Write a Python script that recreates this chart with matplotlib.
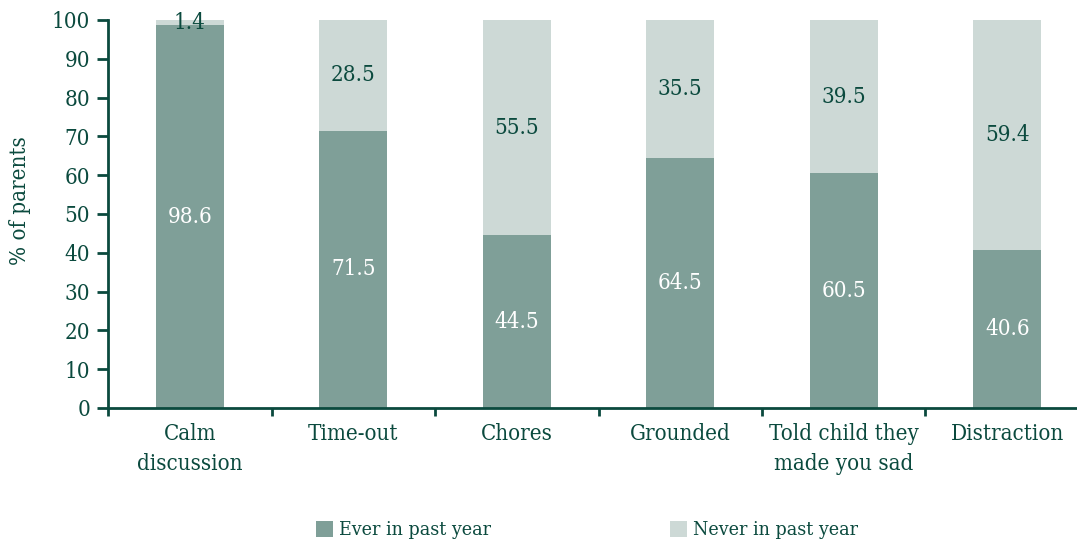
import matplotlib
matplotlib.use("Agg")
import matplotlib.pyplot as plt
from matplotlib.patches import Patch
import numpy as np

categories = ["Calm\ndiscussion", "Time-out", "Chores", "Grounded",
              "Told child they\nmade you sad", "Distraction"]
ever = [98.6, 71.5, 44.5, 64.5, 60.5, 40.6]
never = [1.4, 28.5, 55.5, 35.5, 39.5, 59.4]
series_names = ["Ever in past year", "Never in past year"]

DARK = "#0b4a3e"
EVER_C = "#7f9f98"
NEVER_C = "#cdd9d6"

plt.rcParams["font.family"] = "DejaVu Serif"
plt.rcParams["font.stretch"] = "condensed"

fig = plt.figure(figsize=(10.77, 5.45), dpi=100)
W, H = 1077, 545
left, right, top, bottom = 108, 1077, 20, 408
ax = fig.add_axes([left / W, 1 - bottom / H, (right - left) / W, (bottom - top) / H])

x = np.arange(len(categories))
bw = 0.416
ax.bar(x, ever, width=bw, color=EVER_C, zorder=2)
ax.bar(x, never, width=bw, bottom=ever, color=NEVER_C, zorder=2)

fs = 16
for xi, e, n in zip(x, ever, never):
    ax.text(xi, e / 2, f"{e:.1f}", ha="center", va="center", color="white", fontsize=fs)
    ax.text(xi, e + n / 2, f"{n:.1f}", ha="center", va="center", color=DARK, fontsize=fs)

step = 163.5
ax.set_xlim(-0.5, -0.5 + (right - left) / step)
ax.set_ylim(0, 100)
ax.set_yticks(np.arange(0, 101, 10))
ax.set_xticks(x)
ax.set_xticklabels(categories, fontsize=fs, color=DARK, linespacing=1.45)
ax.set_xticks(np.arange(-0.5, len(categories) - 0.5, 1), minor=True)
ax.tick_params(axis="x", which="major", length=0, pad=11)
ax.tick_params(axis="x", which="minor", length=6, width=2, color=DARK, direction="out")
ax.tick_params(axis="y", length=8, width=2, color=DARK, labelsize=fs, labelcolor=DARK, pad=5)

for s in ["top", "right"]:
    ax.spines[s].set_visible(False)
for s in ["left", "bottom"]:
    ax.spines[s].set_color(DARK)
    ax.spines[s].set_linewidth(2)
    ax.spines[s].set_zorder(3)

ax.set_ylabel("% of parents", fontsize=fs, color=DARK)
ax.yaxis.set_label_coords(-0.079, 0.535)

lfs = 14
handles = [Patch(facecolor=EVER_C, label=series_names[0]),
           Patch(facecolor=NEVER_C, label=series_names[1])]
fig.legend(handles=handles, loc="center", bbox_to_anchor=(587 / W, 1 - 530 / H),
           ncol=2, frameon=False, fontsize=lfs, handlelength=0.88, handleheight=0.88,
           handletextpad=0.3, columnspacing=9.2, labelcolor=DARK)

fig.savefig("out.png", dpi=100, facecolor="white")
